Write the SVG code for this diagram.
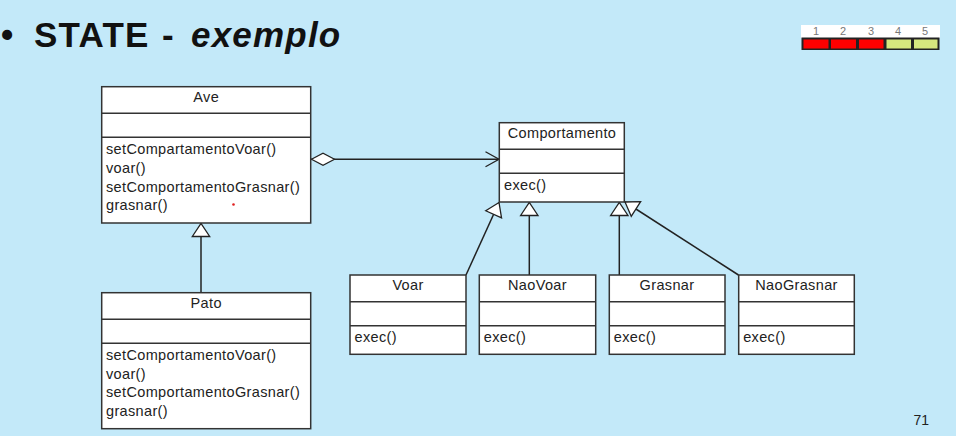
<svg xmlns="http://www.w3.org/2000/svg" width="956" height="436" viewBox="0 0 956 436">
<defs>
<style>
.box{fill:#fff;stroke:#333;stroke-width:1.5}
.div{stroke:#333;stroke-width:1.5}
.t{font-family:"Liberation Sans",Arial,sans-serif;font-size:14.5px;letter-spacing:0.35px;fill:#222}
.c{text-anchor:middle}
.ln{stroke:#222;stroke-width:1.5;fill:none}
.num{font-family:"Liberation Sans",Arial,sans-serif;font-size:11px;fill:#777;text-anchor:middle}
.h{font-family:"Liberation Sans",Arial,sans-serif;font-size:35px;font-weight:bold;fill:#111}
</style>
<marker id="gen" markerUnits="userSpaceOnUse" markerWidth="20" markerHeight="20" viewBox="0 0 20 20" refX="13" refY="10" orient="auto" overflow="visible">
<path d="M0,1.3 L13,10 L0,18.7 Z" fill="#fff" stroke="#222" stroke-width="1.3"/>
</marker>
<marker id="open" markerUnits="userSpaceOnUse" markerWidth="16" markerHeight="18" viewBox="0 0 16 18" refX="14" refY="8" orient="auto" overflow="visible">
<path d="M0.5,0.5 L14,8 L0.5,15.5" fill="none" stroke="#222" stroke-width="1.3"/>
</marker>
<marker id="dia" markerUnits="userSpaceOnUse" markerWidth="26" markerHeight="14" viewBox="0 0 26 14" refX="0" refY="7" orient="auto" overflow="visible">
<path d="M0.5,7 L12,1 L23.5,7 L12,13 Z" fill="#fff" stroke="#222" stroke-width="1.2"/>
</marker>
</defs>
<rect x="0" y="0" width="956" height="436" fill="#c3e9f9"/>

<g id="title">
<text class="h" x="1" y="47">•</text>
<text class="h" x="34" y="47" letter-spacing="1.2">STATE</text>
<text class="h" x="162" y="47">-</text>
<text class="h" x="191" y="47" font-style="italic" letter-spacing="1.2">exemplo</text>
</g>

<g id="progress">
<rect x="801" y="25" width="139" height="13" fill="#fff"/>
<text class="num" x="816" y="35">1</text>
<text class="num" x="843" y="35">2</text>
<text class="num" x="871" y="35">3</text>
<text class="num" x="898" y="35">4</text>
<text class="num" x="925" y="35">5</text>
<rect x="801.5" y="37.5" width="138" height="12.5" fill="#222"/>
<rect x="803.5" y="39.5" width="25" height="9" fill="#ff0000"/>
<rect x="831" y="39.5" width="25" height="9" fill="#ff0000"/>
<rect x="859" y="39.5" width="24.5" height="9" fill="#ff0000"/>
<rect x="886.5" y="39.5" width="24.5" height="9" fill="#d6e77e"/>
<rect x="914" y="39.5" width="23.5" height="9" fill="#d6e77e"/>
</g>

<g id="connectors">
<line class="ln" x1="201" y1="292.7" x2="201" y2="223.5" marker-end="url(#gen)"/>
<line class="ln" x1="311" y1="159.3" x2="499" y2="159.3" marker-start="url(#dia)" marker-end="url(#open)"/>
<line class="ln" x1="466" y1="275" x2="499" y2="202.5" marker-end="url(#gen)"/>
<line class="ln" x1="529.3" y1="275" x2="529.3" y2="202.5" marker-end="url(#gen)"/>
<line class="ln" x1="619.3" y1="275" x2="619.3" y2="202.5" marker-end="url(#gen)"/>
<line class="ln" x1="738.5" y1="275" x2="625" y2="202" marker-end="url(#gen)"/>
</g>

<g id="Ave">
<rect class="box" x="101.7" y="86.7" width="209" height="136.3"/>
<line class="div" x1="101.7" y1="113.3" x2="310.7" y2="113.3"/>
<line class="div" x1="101.7" y1="137.3" x2="310.7" y2="137.3"/>
<text class="t c" x="206.2" y="102">Ave</text>
<text class="t" x="106" y="154">setCompartamentoVoar()</text>
<text class="t" x="106" y="172.7">voar()</text>
<text class="t" x="106" y="191.5">setComportamentoGrasnar()</text>
<text class="t" x="106" y="210.2">grasnar()</text>
<circle cx="233.5" cy="204.5" r="1.3" fill="#e02020"/>
</g>

<g id="Pato">
<rect class="box" x="101.7" y="292.7" width="209" height="136"/>
<line class="div" x1="101.7" y1="319.3" x2="310.7" y2="319.3"/>
<line class="div" x1="101.7" y1="343.3" x2="310.7" y2="343.3"/>
<text class="t c" x="206.2" y="308">Pato</text>
<text class="t" x="106" y="360">setComportamentoVoar()</text>
<text class="t" x="106" y="378.5">voar()</text>
<text class="t" x="106" y="397.3">setComportamentoGrasnar()</text>
<text class="t" x="106" y="416">grasnar()</text>
</g>

<g id="Comportamento">
<rect class="box" x="499.3" y="122.7" width="125" height="79.3"/>
<line class="div" x1="499.3" y1="149.3" x2="624.3" y2="149.3"/>
<line class="div" x1="499.3" y1="173.3" x2="624.3" y2="173.3"/>
<text class="t c" x="562" y="138.3">Comportamento</text>
<text class="t" x="504" y="190">exec()</text>
</g>

<g id="Voar">
<rect class="box" x="350" y="275" width="116" height="79.3"/>
<line class="div" x1="350" y1="301.7" x2="466" y2="301.7"/>
<line class="div" x1="350" y1="325.7" x2="466" y2="325.7"/>
<text class="t c" x="408" y="290">Voar</text>
<text class="t" x="354.5" y="342">exec()</text>
</g>

<g id="NaoVoar">
<rect class="box" x="479.3" y="275" width="116.4" height="79.3"/>
<line class="div" x1="479.3" y1="301.7" x2="595.7" y2="301.7"/>
<line class="div" x1="479.3" y1="325.7" x2="595.7" y2="325.7"/>
<text class="t c" x="537.5" y="290">NaoVoar</text>
<text class="t" x="483.8" y="342">exec()</text>
</g>

<g id="Grasnar">
<rect class="box" x="609.3" y="275" width="115.7" height="79.3"/>
<line class="div" x1="609.3" y1="301.7" x2="725" y2="301.7"/>
<line class="div" x1="609.3" y1="325.7" x2="725" y2="325.7"/>
<text class="t c" x="667" y="290">Grasnar</text>
<text class="t" x="613.8" y="342">exec()</text>
</g>

<g id="NaoGrasnar">
<rect class="box" x="738.7" y="275" width="115.6" height="79.3"/>
<line class="div" x1="738.7" y1="301.7" x2="854.3" y2="301.7"/>
<line class="div" x1="738.7" y1="325.7" x2="854.3" y2="325.7"/>
<text class="t c" x="796.5" y="290">NaoGrasnar</text>
<text class="t" x="743.2" y="342">exec()</text>
</g>

<g id="page">
<text x="929" y="425" font-family="'Liberation Sans',Arial,sans-serif" font-size="14" fill="#222" text-anchor="end">71</text>
</g>
</svg>
